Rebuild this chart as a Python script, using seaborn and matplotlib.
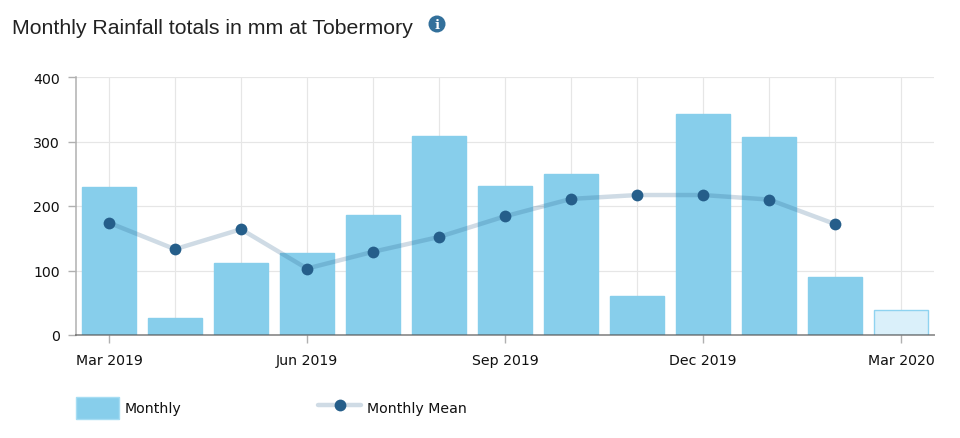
# Monthly rainfall at Tobermory: bars plus monthly mean line
import numpy as np
import pandas as pd
import matplotlib
matplotlib.use('Agg')
import matplotlib.pyplot as plt
from matplotlib.lines import Line2D
from matplotlib.patches import Patch, Circle
import seaborn as sns

months = ["Mar 2019", "Apr 2019", "May 2019", "Jun 2019", "Jul 2019", "Aug 2019", "Sep 2019",
          "Oct 2019", "Nov 2019", "Dec 2019", "Jan 2020", "Feb 2020", "Mar 2020"]
monthly = [229, 27, 111, 127, 186, 309, 231, 249, 60, 343, 307, 90, 39]
monthly_mean = [174, 133, 164, 103, 129, 152, 184, 211, 217, 217, 210, 172, np.nan]
shown_months = ["Mar 2019", "Jun 2019", "Sep 2019", "Dec 2019", "Mar 2020"]
y_ticks = [0, 100, 200, 300, 400]

BAR = "#87CEEB"
BAR_PARTIAL = "#DAF0FA"
BAR_EDGE = "#A6DDF3"
MEAN = "#255E8A"
GRID = "#E6E6E6"
AXIS = "#B0B0B0"
INK = "#111111"

sns.set_theme(style="white")
plt.rcParams["font.family"] = ["DejaVu Sans"]

W, H = 960, 439
fig = plt.figure(figsize=(W / 100, H / 100), dpi=100, facecolor="white")
ax = fig.add_axes([76 / W, 1 - 336 / H, (934 - 76) / W, (336 - 78) / H])

df = pd.DataFrame({"month": months, "monthly": monthly, "mean": monthly_mean})
df["pos"] = df.index

sns.barplot(data=df, x="month", y="monthly", hue="month", legend=False, ax=ax,
            palette=[BAR] * (len(months) - 1) + [BAR_PARTIAL],
            width=0.82, saturation=1, zorder=2)
for bar, month in zip(ax.patches, months):
    bar.set_edgecolor(BAR if month != months[-1] else "#8FD3F0")
    bar.set_linewidth(1.0)

sns.lineplot(data=df, x="pos", y="mean", color=MEAN, alpha=0.22, linewidth=3.2,
             sort=False, estimator=None, ax=ax, zorder=3)
sns.scatterplot(data=df, x="pos", y="mean", color=MEAN, s=72, linewidth=0,
                ax=ax, zorder=4)

ax.set_xlim(-0.5, len(months) - 0.5)
ax.set_ylim(0, 400)
ax.set_xlabel("")
ax.set_ylabel("")
ax.set_yticks(y_ticks)

# gridline for every month, tick and label only every third one
ax.set_xticks(df["pos"])
ax.set_xticklabels([m if m in shown_months else "" for m in months])
ax.grid(True, color=GRID, linewidth=0.85, zorder=0)
ax.set_axisbelow(True)
ax.tick_params(axis="y", length=5.8, width=1, color=AXIS, pad=6, labelsize=10.2, labelcolor=INK, left=True)
ax.tick_params(axis="x", length=0, pad=13.2, labelsize=10.2, labelcolor=INK, bottom=True)
for tick, month in zip(ax.xaxis.get_major_ticks(), months):
    if month in shown_months:
        tick.tick1line.set_markersize(5.8)
        tick.tick1line.set_markeredgewidth(1)
        tick.tick1line.set_markeredgecolor(AXIS)

ax.spines[["top", "right"]].set_visible(False)
ax.spines["left"].set_color(AXIS)
ax.spines["bottom"].set_color("#555555")
ax.spines["bottom"].set_alpha(0.6)
ax.spines["left"].set_linewidth(1.1)
ax.spines["bottom"].set_linewidth(1.4)

# title and info icon
fig.text(12 / W, 1 - 28 / H, "Monthly Rainfall totals in mm at Tobermory", family="Liberation Sans",
         fontsize=15.3, color="#222222", ha="left", va="center")
fig.add_artist(Circle((437, H - 25), 8.5, transform=None, facecolor="#33709B", edgecolor="none"))
fig.text(437 / W, 1 - 25.5 / H, "i", fontsize=9.5, fontweight="bold", family="DejaVu Serif",
         color="white", ha="center", va="center")

handles = [
    Patch(facecolor=BAR, edgecolor=BAR_EDGE, linewidth=1),
    Line2D([0], [0], color=(*matplotlib.colors.to_rgb(MEAN), 0.22), linewidth=3.2, marker="o", markersize=8.5,
           markerfacecolor=MEAN, markeredgecolor=MEAN, markeredgewidth=0),
]
fig.legend(handles, ["Monthly", "Monthly Mean"], ncol=2, frameon=False, fontsize=10.2,
           loc="center left", bbox_to_anchor=(76 / W, 1 - 409 / H), borderaxespad=0, borderpad=0,
           handlelength=3.05, handleheight=2.0, handletextpad=0.38, columnspacing=9.65, labelcolor=INK)

fig.savefig("out.png", dpi=100)
